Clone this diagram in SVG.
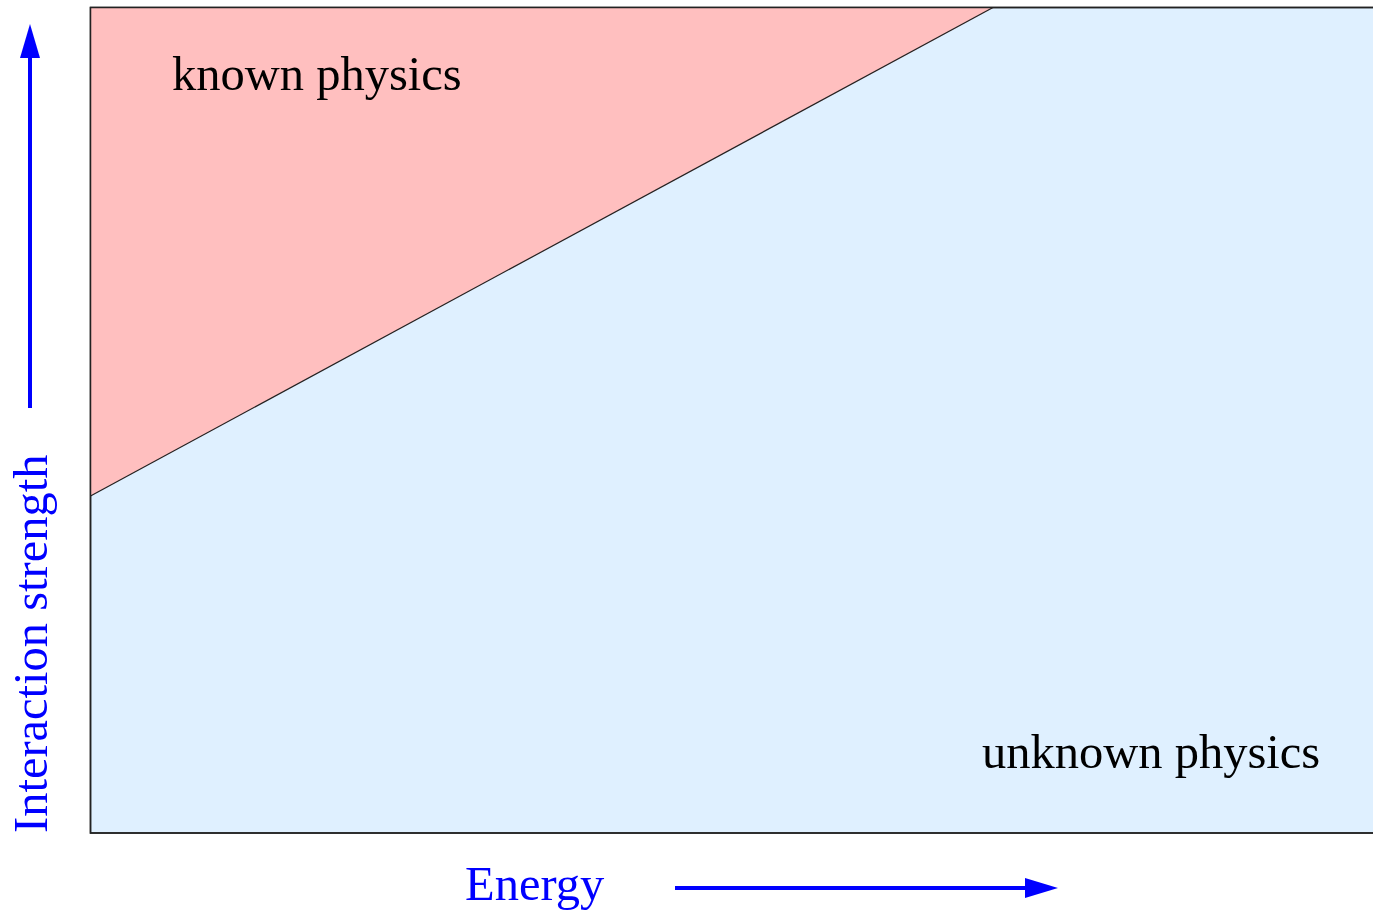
<svg xmlns="http://www.w3.org/2000/svg" width="1373" height="910" viewBox="0 0 1373 910">
<style>
.lbl{font-family:"Liberation Serif","Times New Roman",serif;font-size:48.5px}
.axis{font-family:"Liberation Serif","Times New Roman",serif;font-size:48.5px;fill:#0000ff}
.arr{stroke:#0000ff;stroke-width:4;fill:none}
</style>
<rect width="1373" height="910" fill="#ffffff"/>
<g id="regions">
<rect x="90.5" y="7.5" width="1300" height="825.5" fill="#dff0ff" stroke="#222" stroke-width="1.5"/>
<polygon points="91,8 993,8 91,496" fill="#ffbfbf"/>
<line x1="90.5" y1="496" x2="993" y2="7.5" stroke="#222" stroke-width="1.2"/>
<rect x="90.5" y="7.5" width="1300" height="825.5" fill="none" stroke="#222" stroke-width="1.5"/>
</g>
<g id="known"><text class="lbl" x="172" y="90">known physics</text></g>
<g id="unknown"><text class="lbl" x="982" y="768">unknown physics</text></g>
<g id="connectors">
<line class="arr" x1="30" y1="408" x2="30" y2="58"/>
<polygon points="20,58 40,58 30,24" fill="#0000ff"/>
<line class="arr" x1="675" y1="888" x2="1026" y2="888"/>
<polygon points="1025,878 1025,898 1058,888" fill="#0000ff"/>
</g>
<g id="ylabel"><text class="axis" transform="translate(47,833) rotate(-90)">Interaction strength</text></g>
<g id="xlabel"><text class="axis" x="465" y="900">Energy</text></g>
</svg>
